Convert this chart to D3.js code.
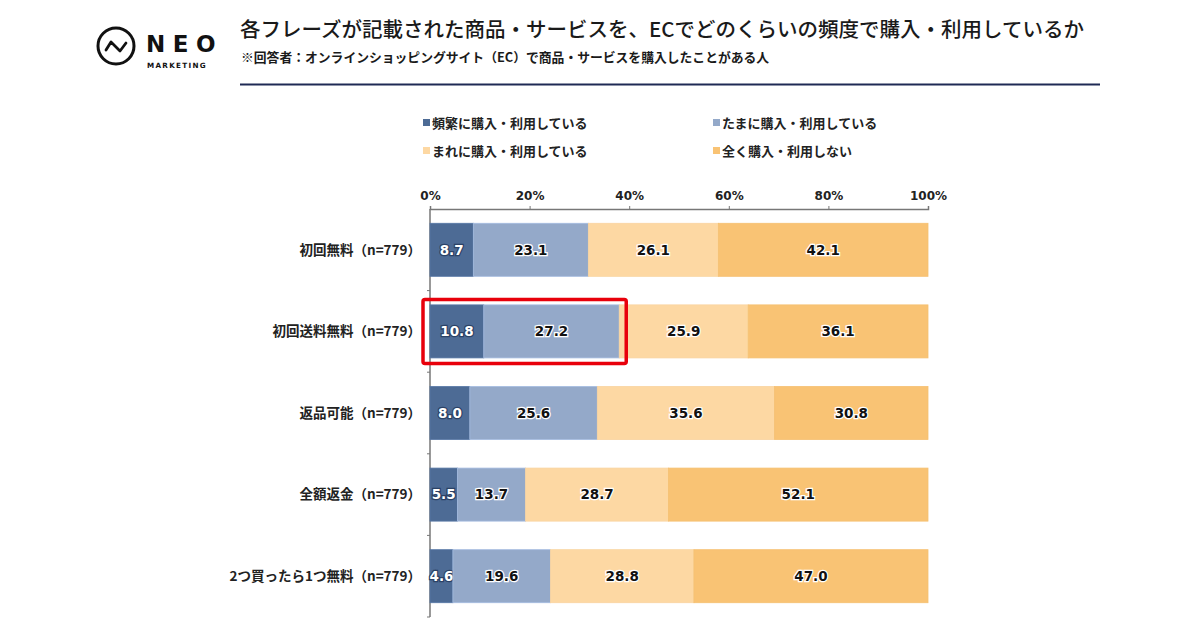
<!DOCTYPE html>
<html><head><meta charset="utf-8">
<script src="https://cdn.jsdelivr.net/npm/d3@7"></script>
<style>
html,body{margin:0;padding:0;background:#fff;}
svg{display:block;font-family:"Noto Sans CJK JP","Noto Sans",sans-serif;}
</style></head>
<body><svg id="c" width="1200" height="630"></svg>
<script>
const categories = ["初回無料(n=779)","初回送料無料(n=779)","返品可能(n=779)","全額返金(n=779)","2つ買ったら1つ無料(n=779)"];
const seriesNames = ["頻繁に購入・利用している","たまに購入・利用している","まれに購入・利用している","全く購入・利用しない"];
const frequent = [8.7,10.8,8.0,5.5,4.6];
const sometimes = [23.1,27.2,25.6,13.7,19.6];
const rarely = [26.1,25.9,35.6,28.7,28.8];
const never = [42.1,36.1,30.8,52.1,47.0];
const tickValues = [0,20,40,60,80,100];
const colors = ["#4d6b95","#94a9c9","#fdd8a3","#f9c374"];
const highlightIndex = 1;

const svg = d3.select("#c");
const seriesVals = [frequent, sometimes, rarely, never];

// Logo
const logo = svg.append("g");
logo.append("circle").attr("cx",116).attr("cy",46).attr("r",18).attr("fill","none").attr("stroke","#111").attr("stroke-width",3);
logo.append("path").attr("d","M106,50 L111,42 L120,51 L126,43").attr("fill","none").attr("stroke","#111").attr("stroke-width",2.8).attr("stroke-linejoin","round").attr("stroke-linecap","round");
logo.append("text").attr("x",146).attr("y",52).attr("font-family","'DejaVu Sans',sans-serif").attr("font-weight","bold").attr("font-size",23).attr("letter-spacing",7.5).attr("fill","#111").text("NEO");
logo.append("text").attr("x",147).attr("y",68).attr("font-family","'DejaVu Sans',sans-serif").attr("font-weight","bold").attr("font-size",7.2).attr("letter-spacing",1.3).attr("fill","#111").text("MARKETING");

// Title
svg.append("text").attr("x",240).attr("y",37).attr("font-size",20.5).attr("font-weight",500).attr("fill","#1a1a1a")
  .text("各フレーズが記載された商品・サービスを、ECでどのくらいの頻度で購入・利用しているか");
svg.append("text").attr("x",241).attr("y",62).attr("font-size",12.8).attr("font-weight",600).attr("fill","#1a1a1a")
  .text("※回答者：オンラインショッピングサイト（EC）で商品・サービスを購入したことがある人");
svg.append("line").attr("x1",240).attr("x2",1100).attr("y1",84.5).attr("y2",84.5).attr("stroke","#1f2a55").attr("stroke-width",2);

// Legend
const legendPos = [[423,123],[713,123],[423,151],[713,151]];
seriesNames.forEach((n,i)=>{
  const g = svg.append("g").attr("transform",`translate(${legendPos[i][0]},${legendPos[i][1]})`);
  g.append("rect").attr("x",0).attr("y",-4).attr("width",7).attr("height",7).attr("fill",colors[i]);
  g.append("text").attr("x",9).attr("y",4.5).attr("font-size",13).attr("font-weight",600).attr("fill","#222").text(n);
});

// Scales
const x = d3.scaleLinear().domain([0,100]).range([430,928]);
const y = d3.scaleBand().domain(categories).range([209,617]).paddingInner(0.35).paddingOuter(0.175);

// Top axis
const xAxis = svg.append("g").attr("transform","translate(0,209)")
  .call(d3.axisTop(x).tickValues(tickValues).tickFormat(d=>d+"%").tickSize(3).tickPadding(6));
xAxis.select(".domain").attr("stroke","#777").attr("stroke-width",1.5);
xAxis.selectAll(".tick line").attr("stroke","#777");
xAxis.selectAll("text").attr("font-size",12).attr("font-weight",700).attr("fill","#222").attr("font-family","'DejaVu Sans',sans-serif").attr("dy","0em");

// Left axis
const yAxis = svg.append("g").attr("transform","translate(430,0)");
yAxis.append("line").attr("x1",0).attr("x2",0).attr("y1",209).attr("y2",617).attr("stroke","#777").attr("stroke-width",1.5);
const bounds = d3.range(categories.length+1).map(i=>209 + i*(408/categories.length));
yAxis.selectAll("line.t").data(bounds.slice(1)).enter().append("line").attr("class","t")
  .attr("x1",-3).attr("x2",0).attr("y1",d=>d).attr("y2",d=>d).attr("stroke","#777");

svg.append("g").selectAll("text").data(categories).enter().append("text")
  .attr("x",421).attr("y",d=>y(d)+y.bandwidth()/2).attr("dy","0.35em")
  .attr("text-anchor","end").attr("font-size",13.5).attr("font-weight",600).attr("fill","#222")
  .text(d=>d.replace("(","（").replace(")","）"));

// Bars
const data = categories.map((c,i)=>({c, vals: seriesVals.map(s=>s[i])}));
const bars = svg.append("g");
data.forEach(d=>{
  let acc=0;
  d.vals.forEach((v,j)=>{
    const x0 = x(acc), x1 = x(acc+v);
    bars.append("rect").attr("x",x0).attr("y",y(d.c)).attr("width",x1-x0).attr("height",y.bandwidth())
      .attr("fill",colors[j]).attr("stroke", j<2 ? d3.color(colors[j]).brighter(0.3) : d3.color(colors[j]).darker(0.05)).attr("stroke-width",0.8);
    const t = bars.append("text").attr("x",(x0+x1)/2).attr("y",y(d.c)+y.bandwidth()/2).attr("dy","0.36em")
      .attr("text-anchor","middle").attr("font-size",13.5).attr("font-weight",700)
      .attr("font-family","'DejaVu Sans',sans-serif").attr("paint-order","stroke").attr("stroke-width",2.5)
      .text(v.toFixed(1));
    if(j===0){ t.attr("fill","#fff").attr("stroke","#2b4266"); }
    else { t.attr("fill","#111").attr("stroke","#fff"); }
    acc += v;
  });
});

// Highlight box
const hc = categories[highlightIndex];
const hEnd = frequent[highlightIndex] + sometimes[highlightIndex];
svg.append("rect").attr("x",x(0)-7).attr("y",y(hc)-5.5).attr("width",x(hEnd)-x(0)+14).attr("height",y.bandwidth()+11)
  .attr("fill","none").attr("stroke","#e8000b").attr("stroke-width",3.5).attr("rx",2);
</script></body></html>
